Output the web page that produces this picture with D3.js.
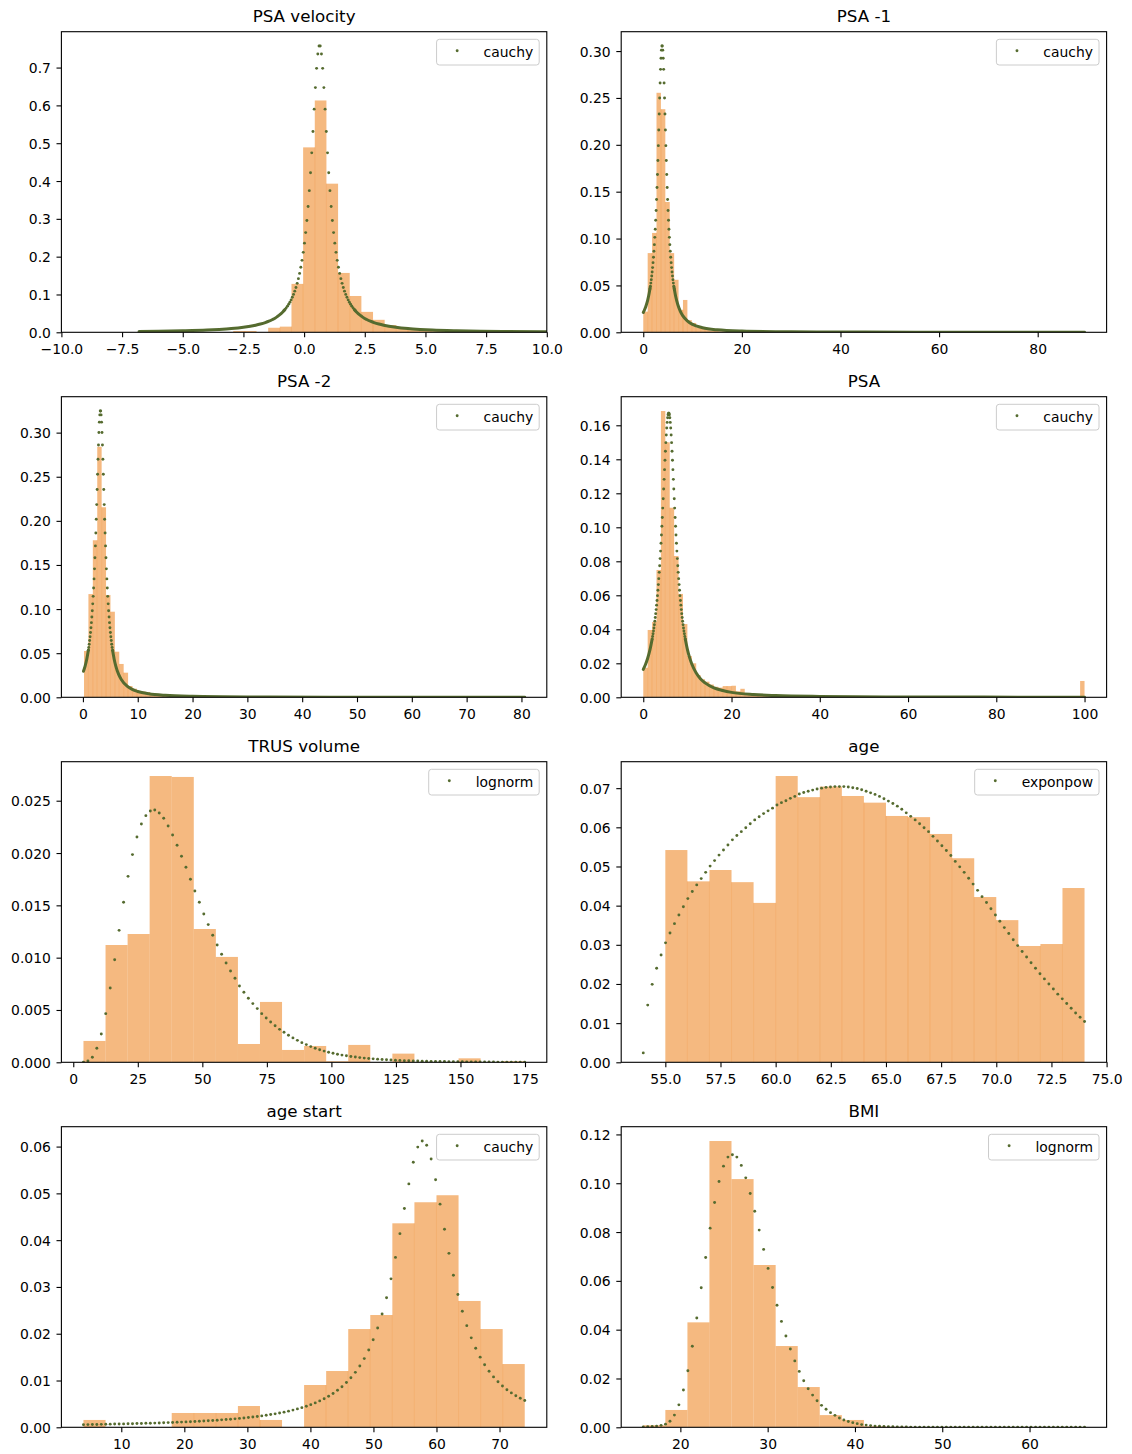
<!DOCTYPE html>
<html><head><meta charset="utf-8">
<script src="https://cdn.jsdelivr.net/npm/d3@7"></script>
<style>body{margin:0;background:#fff}svg text{font-family:"DejaVu Sans",sans-serif}</style>
</head><body><svg id="fig" width="1132" height="1454"></svg>
<script>
// ---------------- DATA ----------------
const titles = ["PSA velocity","PSA -1","PSA -2","PSA","TRUS volume","age","age start","BMI"];
const fitNames = ["cauchy","cauchy","cauchy","cauchy","lognorm","exponpow","cauchy","lognorm"];

// PSA velocity
const psaVelocityBinLeft = [-2.92,-2.44,-1.96,-1.48,-1.00,-0.52,-0.04,0.44,0.92,1.40,1.88,2.36,2.84,3.32,3.80,4.28,4.76,5.24,5.72];
const psaVelocityBinWidth = 0.48;
const psaVelocityDensity = [0.0035,0.0035,0,0.012,0.015,0.128,0.489,0.613,0.393,0.157,0.096,0.054,0.033,0.019,0.011,0.007,0.005,0.003,0.002];
const psaVelocityFitDots = [[-0.835,0.0568],[-0.785,0.0605],[-0.735,0.0646],[-0.685,0.0691],[-0.635,0.0741],[-0.585,0.0796],[-0.535,0.0857],[-0.485,0.0926],[-0.435,0.1002],[-0.385,0.1088],[-0.335,0.1185],[-0.285,0.1294],[-0.235,0.1418],[-0.185,0.1558],[-0.135,0.1719],[-0.085,0.1903],[-0.035,0.2114],[0.015,0.2357],[0.065,0.2636],[0.115,0.2957],[0.165,0.3326],[0.215,0.3746],[0.265,0.422],[0.315,0.4745],[0.365,0.531],[0.415,0.590],[0.465,0.647],[0.515,0.698],[0.565,0.736],[0.615,0.757],[0.665,0.757],[0.715,0.736],[0.765,0.698],[0.815,0.647],[0.865,0.590],[0.915,0.531],[0.965,0.4745],[1.015,0.422],[1.065,0.3746],[1.115,0.3326],[1.165,0.2957],[1.215,0.2636],[1.265,0.2357],[1.315,0.2114],[1.365,0.1903],[1.415,0.1719],[1.465,0.1558],[1.515,0.1418],[1.565,0.1294],[1.615,0.1185],[1.665,0.1088],[1.715,0.1002],[1.765,0.0926],[1.815,0.0857],[1.865,0.0796],[1.915,0.0741],[1.965,0.0691],[2.015,0.0646],[2.065,0.0605],[2.115,0.0568]];
const psaVelocityTailLeft = [[-6.8,0.0024],[-6,0.0030],[-5,0.0042],[-4,0.0061],[-3.5,0.0077],[-3,0.0099],[-2.5,0.0133],[-2,0.0187],[-1.8,0.0218],[-1.6,0.0257],[-1.45,0.0293],[-1.3,0.0339],[-1.2,0.0374],[-1.1,0.0418],[-1.0,0.0466],[-0.9,0.0524],[-0.8,0.0593]];
const psaVelocityTailRight = [[2.08,0.0593],[2.18,0.0524],[2.28,0.0466],[2.38,0.0418],[2.48,0.0374],[2.58,0.0339],[2.73,0.0293],[2.88,0.0257],[3.08,0.0218],[3.28,0.0187],[3.78,0.0133],[4.28,0.0099],[4.78,0.0077],[5.28,0.0061],[6.28,0.0042],[7.28,0.0030],[8.28,0.00228],[10,0.0015],[11,0.00124]];
const psaVelocityXTicks = [-10,-7.5,-5,-2.5,0,2.5,5,7.5,10];
const psaVelocityYTicks = [0,0.1,0.2,0.3,0.4,0.5,0.6,0.7];

// PSA -1
const psa1BinLeft = [0,0.895,1.79,2.685,3.58,4.475,5.37,6.265,7.16,8.055,8.95,9.845,10.74,11.635,12.53,13.425,14.32,15.215,16.11,17.005];
const psa1BinWidth = 0.895;
const psa1Density = [0.022,0.0845,0.106,0.2555,0.238,0.139,0.0845,0.056,0.024,0.0345,0.013,0.010,0.005,0.004,0.003,0.002,0.0015,0.001,0.001,0.001];
const psa1FitDots = [[1.356,0.0463],[1.445,0.0492],[1.535,0.0525],[1.625,0.0561],[1.714,0.0600],[1.804,0.0643],[1.893,0.0690],[1.983,0.0743],[2.073,0.0800],[2.162,0.0864],[2.252,0.0935],[2.341,0.1013],[2.431,0.1099],[2.521,0.1195],[2.610,0.1300],[2.700,0.1417],[2.789,0.1544],[2.879,0.1683],[2.969,0.1832],[3.058,0.1991],[3.148,0.2158],[3.237,0.2329],[3.327,0.2499],[3.417,0.2660],[3.506,0.2805],[3.596,0.2924],[3.685,0.3010],[3.775,0.3054],[3.865,0.3054],[3.955,0.3010],[4.044,0.2924],[4.134,0.2805],[4.223,0.2660],[4.313,0.2499],[4.403,0.2329],[4.492,0.2158],[4.582,0.1991],[4.671,0.1832],[4.761,0.1683],[4.851,0.1544],[4.940,0.1417],[5.030,0.1300],[5.119,0.1195],[5.209,0.1099],[5.299,0.1013],[5.388,0.0935],[5.478,0.0864],[5.567,0.0800],[5.657,0.0743],[5.747,0.0690],[5.836,0.0643],[5.926,0.0600],[6.015,0.0561],[6.105,0.0525],[6.195,0.0492],[6.284,0.0463]];
const psa1TailLeft = [[0,0.0211],[0.3,0.0246],[0.6,0.0289],[0.9,0.0344],[1.2,0.0416],[1.4,0.0477]];
const psa1TailRight = [[6.24,0.0477],[6.6,0.0376],[7,0.0296],[7.5,0.0226],[8,0.0178],[9,0.0119],[10,0.0084],[12,0.0049],[15,0.0026],[20,0.00126],[30,0.00048],[45,0.000195],[60,0.000105],[75,0.000065],[89.5,0.000045]];
const psa1XTicks = [0,20,40,60,80];
const psa1YTicks = [0,0.05,0.10,0.15,0.20,0.25,0.30];

// PSA -2
const psa2BinLeft = [0.2,1.004,1.808,2.612,3.416,4.22,5.024,5.828,6.632,7.436,8.24,9.044,9.848,10.652,11.456,12.26,13.064,13.868,14.672,15.476];
const psa2BinWidth = 0.804;
const psa2Density = [0.0525,0.117,0.178,0.284,0.2154,0.116,0.097,0.0517,0.0378,0.0279,0.0128,0.0098,0.007,0.0065,0.006,0.004,0.003,0.002,0.0015,0.001];
const psa2FitDots = [[0.9865,0.0532],[1.067,0.0565],[1.1475,0.0602],[1.228,0.0643],[1.3085,0.0687],[1.389,0.0735],[1.4695,0.0788],[1.55,0.0846],[1.6305,0.0910],[1.711,0.0981],[1.7915,0.1059],[1.872,0.1144],[1.9525,0.1239],[2.033,0.1342],[2.1135,0.1456],[2.194,0.1581],[2.2745,0.1716],[2.355,0.1862],[2.4355,0.2019],[2.516,0.2184],[2.5965,0.2355],[2.677,0.2528],[2.7575,0.2699],[2.838,0.2859],[2.9185,0.3002],[2.999,0.3119],[3.0795,0.3201],[3.16,0.3245],[3.24,0.3245],[3.3205,0.3201],[3.401,0.3119],[3.4815,0.3002],[3.562,0.2859],[3.6425,0.2699],[3.723,0.2528],[3.8035,0.2355],[3.884,0.2184],[3.9645,0.2019],[4.045,0.1862],[4.1255,0.1716],[4.206,0.1581],[4.2865,0.1456],[4.367,0.1342],[4.4475,0.1239],[4.528,0.1144],[4.6085,0.1059],[4.689,0.0981],[4.7695,0.0910],[4.85,0.0846],[4.9305,0.0788],[5.011,0.0735],[5.0915,0.0687],[5.172,0.0643],[5.2525,0.0602],[5.333,0.0565],[5.4135,0.0532]];
const psa2TailLeft = [[0.1,0.0295],[0.4,0.0354],[0.7,0.0432],[1.0,0.0537]];
const psa2TailRight = [[5.41,0.0532],[5.7,0.0432],[6.0,0.0354],[6.5,0.0263],[7,0.0202],[8,0.0130],[9,0.0090],[10,0.0066],[12,0.0040],[15,0.0022],[20,0.0011],[30,0.00043],[45,0.000178],[60,0.000097],[80.6,0.000052]];
const psa2XTicks = [0,10,20,30,40,50,60,70,80];
const psa2YTicks = [0,0.05,0.10,0.15,0.20,0.25,0.30];

// PSA
const psaBinLeft = [0,1,2,3,4,5,6,7,8,9,10,11,12,13,14,15,16,17,18,19,20,21,22,23,24,25,26,27,28,29,99];
const psaBinWidth = 1;
const psaDensity = [0.0174,0.0396,0.0443,0.0749,0.1684,0.150,0.1115,0.0831,0.0608,0.0431,0.0243,0.0200,0.0131,0.0106,0.0092,0.0075,0.0062,0.0057,0.0066,0.0066,0.0068,0.0035,0.0050,0.0020,0.0015,0.0012,0.0010,0.0008,0.0006,0.0005,0.0096];
const psaFitDots = [[2.02,0.0343],[2.12,0.0358],[2.22,0.0374],[2.32,0.0390],[2.42,0.0408],[2.52,0.0427],[2.62,0.0447],[2.72,0.0469],[2.82,0.0492],[2.92,0.0516],[3.02,0.0542],[3.12,0.0569],[3.22,0.0598],[3.32,0.0630],[3.42,0.0663],[3.52,0.0698],[3.62,0.0735],[3.72,0.0774],[3.82,0.0816],[3.92,0.0860],[4.02,0.0906],[4.12,0.0955],[4.22,0.1006],[4.32,0.1058],[4.42,0.1113],[4.52,0.1168],[4.62,0.1225],[4.72,0.1282],[4.82,0.1339],[4.92,0.1394],[5.02,0.1447],[5.12,0.1498],[5.22,0.1543],[5.32,0.1584],[5.42,0.1617],[5.52,0.1644],[5.62,0.1662],[5.72,0.1671],[5.82,0.1671],[5.92,0.1662],[6.02,0.1644],[6.12,0.1617],[6.22,0.1584],[6.32,0.1543],[6.42,0.1498],[6.52,0.1447],[6.62,0.1394],[6.72,0.1339],[6.82,0.1282],[6.92,0.1225],[7.02,0.1168],[7.12,0.1113],[7.22,0.1058],[7.32,0.1006],[7.42,0.0955],[7.52,0.0906],[7.62,0.0860],[7.72,0.0816],[7.82,0.0774],[7.92,0.0735],[8.02,0.0698],[8.12,0.0663],[8.22,0.0630],[8.32,0.0598],[8.42,0.0569],[8.52,0.0542],[8.62,0.0516],[8.72,0.0492],[8.82,0.0469],[8.92,0.0447],[9.02,0.0427],[9.12,0.0408],[9.22,0.0390],[9.32,0.0374],[9.42,0.0358],[9.52,0.0343]];
const psaTailLeft = [[0,0.0164],[0.5,0.0193],[1.0,0.0230],[1.5,0.0277],[2.0,0.0340]];
const psaTailRight = [[9.52,0.0343],[10,0.0282],[10.5,0.0233],[11,0.0196],[12,0.0143],[13,0.0108],[14,0.0085],[16,0.0056],[18,0.0040],[20,0.0029],[25,0.00162],[30,0.00103],[40,0.00052],[55,0.00025],[70,0.000147],[85,0.000097],[100,0.000068]];
const psaXTicks = [0,20,40,60,80,100];
const psaYTicks = [0,0.02,0.04,0.06,0.08,0.10,0.12,0.14,0.16];

// TRUS volume
const trusBinLeft = [3.95,12.50,21.05,29.59,38.14,46.69,55.24,63.78,72.33,80.88,89.43,97.97,106.52,115.07,123.62,132.16,140.71,149.26,157.81,166.35];
const trusBinWidth = 8.5475;
const trusDensity = [0.00204,0.01121,0.01226,0.02736,0.02727,0.01274,0.01007,0.00175,0.00577,0.00118,0.00156,0.0001,0.00166,0,0.00083,0,0,0.00038,0,0.0001];
const trusFitDots = [[3.95,0.00002],[5.68,0.00013],[7.40,0.00048],[9.13,0.00134],[10.86,0.00271],[12.58,0.00465],[14.31,0.0071],[16.04,0.0098],[17.76,0.01261],[19.49,0.01529],[21.22,0.01777],[22.94,0.01985],[24.67,0.02153],[26.39,0.02278],[28.12,0.02357],[29.85,0.02402],[31.57,0.02411],[33.30,0.02383],[35.03,0.02332],[36.75,0.02258],[38.48,0.02172],[40.21,0.02074],[41.93,0.01969],[43.66,0.01864],[45.39,0.01749],[47.11,0.01637],[48.84,0.01529],[50.57,0.01418],[52.29,0.01316],[54.02,0.01214],[55.75,0.01121],[57.47,0.01032],[59.20,0.00949],[60.92,0.00873],[62.65,0.00803],[64.38,0.00729],[66.10,0.00669],[67.83,0.00612],[69.56,0.00561],[71.28,0.00513],[73.01,0.00465],[74.74,0.00424],[76.46,0.00385],[78.19,0.0035],[79.92,0.00315],[81.64,0.00287],[83.37,0.00258],[85.10,0.00233],[86.82,0.0021],[88.55,0.00188],[90.28,0.00169],[92.00,0.0015],[93.73,0.00134],[95.45,0.0012],[97.18,0.00107],[98.91,0.00096],[100.63,0.00086],[102.36,0.00077],[104.09,0.00069],[105.81,0.00062],[107.54,0.00056],[109.27,0.0005],[110.99,0.00045],[112.72,0.0004],[114.45,0.00036],[116.17,0.00033],[117.90,0.0003],[119.63,0.00027],[121.35,0.00024],[123.08,0.00022],[124.81,0.0002],[126.53,0.00018],[128.26,0.00016],[129.98,0.00015],[131.71,0.00013],[133.44,0.00012],[135.16,0.00011],[136.89,0.0001],[138.62,0.00009],[140.34,0.00008],[142.07,0.000075],[143.80,0.00007],[145.52,0.000062],[147.25,0.000056],[148.98,0.00005],[150.70,0.000046],[152.43,0.000042],[154.16,0.000038],[155.88,0.000034],[157.61,0.000031],[159.34,0.000028],[161.06,0.000025],[162.79,0.000023],[164.51,0.000021],[166.24,0.000019],[167.97,0.000017],[169.69,0.000016],[171.42,0.000014],[173.15,0.000013],[174.87,0.000012]];
const trusXTicks = [0,25,50,75,100,125,150,175];
const trusYTicks = [0,0.005,0.010,0.015,0.020,0.025];

// age
const ageBinLeft = [55,56,57,58,59,60,61,62,63,64,65,66,67,68,69,70,71,72,73];
const ageBinWidth = 1;
const ageDensity = [0.0542,0.0462,0.0491,0.0460,0.0407,0.0731,0.0677,0.0704,0.0680,0.0663,0.0629,0.0626,0.0583,0.0521,0.0422,0.0363,0.0297,0.0302,0.0445];
const ageFitDots = [[54.000,0.0024],[54.202,0.0146],[54.404,0.0199],[54.606,0.0240],[54.808,0.0274],[55.010,0.0305],[55.212,0.0330],[55.414,0.0354],[55.616,0.0376],[55.818,0.0397],[56.020,0.0418],[56.222,0.0436],[56.424,0.0453],[56.626,0.0469],[56.828,0.0485],[57.030,0.0501],[57.232,0.0515],[57.434,0.0529],[57.636,0.0542],[57.838,0.0555],[58.040,0.0568],[58.242,0.0579],[58.444,0.0589],[58.646,0.0599],[58.848,0.0609],[59.051,0.0619],[59.253,0.0627],[59.455,0.0635],[59.657,0.0642],[59.859,0.0649],[60.061,0.0657],[60.263,0.0663],[60.465,0.0668],[60.667,0.0674],[60.869,0.0679],[61.071,0.0685],[61.273,0.0689],[61.475,0.0692],[61.677,0.0695],[61.879,0.0698],[62.081,0.0700],[62.283,0.0702],[62.485,0.0703],[62.687,0.0704],[62.889,0.0704],[63.091,0.0704],[63.293,0.0703],[63.495,0.0701],[63.697,0.0699],[63.899,0.0696],[64.101,0.0692],[64.303,0.0688],[64.505,0.0684],[64.707,0.0679],[64.909,0.0673],[65.111,0.0667],[65.313,0.0661],[65.515,0.0654],[65.717,0.0646],[65.919,0.0637],[66.121,0.0628],[66.323,0.0619],[66.525,0.0609],[66.727,0.0599],[66.929,0.0589],[67.131,0.0577],[67.333,0.0565],[67.535,0.0553],[67.737,0.0541],[67.939,0.0528],[68.141,0.0513],[68.343,0.0499],[68.545,0.0485],[68.747,0.0470],[68.949,0.0455],[69.152,0.0439],[69.354,0.0423],[69.556,0.0408],[69.758,0.0392],[69.960,0.0376],[70.162,0.0360],[70.364,0.0344],[70.566,0.0329],[70.768,0.0313],[70.970,0.0298],[71.172,0.0283],[71.374,0.0269],[71.576,0.0254],[71.778,0.0240],[71.980,0.0226],[72.182,0.0213],[72.384,0.0200],[72.586,0.0187],[72.788,0.0174],[72.990,0.0162],[73.192,0.0150],[73.394,0.0138],[73.596,0.0126],[73.798,0.0115],[74.000,0.0104]];
const ageXTicks = [55,57.5,60,62.5,65,67.5,70,72.5,75];
const ageYTicks = [0,0.01,0.02,0.03,0.04,0.05,0.06,0.07];

// age start
const ageStartBinLeft = [4,7.5,11,14.5,18,21.5,25,28.5,32,35.5,39,42.5,46,49.5,53,56.5,60,63.5,67,70.5];
const ageStartBinWidth = 3.5;
const ageStartDensity = [0.00157,0,0,0,0.00306,0.00306,0.00306,0.00455,0.00157,0,0.00904,0.01203,0.0210,0.0240,0.0436,0.0481,0.0496,0.0270,0.0210,0.01352];
const ageStartFitDots = [[4.000,0.00057],[4.707,0.00058],[5.414,0.00060],[6.121,0.00061],[6.828,0.00063],[7.535,0.00065],[8.242,0.00067],[8.950,0.00069],[9.657,0.00071],[10.364,0.00073],[11.071,0.00075],[11.778,0.00077],[12.485,0.00080],[13.192,0.00082],[13.899,0.00085],[14.606,0.00087],[15.313,0.00090],[16.020,0.00093],[16.727,0.00097],[17.434,0.00100],[18.141,0.00103],[18.848,0.00107],[19.556,0.00111],[20.263,0.00115],[20.970,0.00120],[21.677,0.00124],[22.384,0.00129],[23.091,0.00134],[23.798,0.00140],[24.505,0.00146],[25.212,0.00152],[25.919,0.00159],[26.626,0.00166],[27.333,0.00173],[28.040,0.00181],[28.747,0.00190],[29.455,0.00199],[30.162,0.00209],[30.869,0.00220],[31.576,0.00232],[32.283,0.00244],[32.990,0.00258],[33.697,0.00272],[34.404,0.00288],[35.111,0.00305],[35.818,0.00324],[36.525,0.00345],[37.232,0.00368],[37.939,0.00393],[38.646,0.00420],[39.354,0.00451],[40.061,0.00484],[40.768,0.00522],[41.475,0.00564],[42.182,0.00611],[42.889,0.00664],[43.596,0.00724],[44.303,0.00791],[45.010,0.00868],[45.717,0.00956],[46.424,0.01058],[47.131,0.01175],[47.838,0.01311],[48.545,0.01468],[49.253,0.01653],[49.960,0.01870],[50.667,0.02124],[51.374,0.02422],[52.081,0.02769],[52.788,0.03173],[53.495,0.03631],[54.202,0.04139],[54.909,0.04675],[55.616,0.05202],[56.323,0.05664],[57.030,0.05989],[57.737,0.06119],[58.444,0.06028],[59.152,0.05733],[59.859,0.05291],[60.566,0.04770],[61.273,0.04232],[61.980,0.03718],[62.687,0.03250],[63.394,0.02837],[64.101,0.02479],[64.808,0.02173],[65.515,0.01912],[66.222,0.01689],[66.929,0.01499],[67.636,0.01337],[68.343,0.01197],[69.051,0.01077],[69.758,0.00973],[70.465,0.00883],[71.172,0.00804],[71.879,0.00735],[72.586,0.00674],[73.293,0.00620],[74.000,0.00572]];
const ageStartXTicks = [10,20,30,40,50,60,70];
const ageStartYTicks = [0,0.01,0.02,0.03,0.04,0.05,0.06];

// BMI
const bmiBinLeft = [15.75,18.28,20.81,23.33,25.86,28.39,30.92,33.44,35.97,38.50,41.03,43.55,46.08,48.61,51.14,53.66,56.19,58.72,61.25,63.77];
const bmiBinWidth = 2.5275;
const bmiDensity = [0.00082,0.0071,0.0430,0.1173,0.1017,0.0665,0.0333,0.0165,0.0050,0.0030,0.0004,0.0002,0,0,0,0,0,0,0,0.0001];
const bmiFitDots = [[15.75,0.0001],[16.26,0.0002],[16.77,0.0003],[17.28,0.0005],[17.79,0.0008],[18.30,0.0013],[18.81,0.0025],[19.32,0.0050],[19.83,0.0092],[20.35,0.0153],[20.86,0.0232],[21.37,0.0332],[21.88,0.0448],[22.39,0.0572],[22.90,0.0696],[23.41,0.0816],[23.92,0.0921],[24.43,0.1007],[24.94,0.1070],[25.45,0.1107],[25.96,0.1117],[26.47,0.1107],[26.98,0.1073],[27.49,0.1022],[28.00,0.0958],[28.52,0.0885],[29.03,0.0808],[29.54,0.0729],[30.05,0.0651],[30.56,0.0573],[31.07,0.0500],[31.58,0.0434],[32.09,0.0374],[32.60,0.0321],[33.11,0.0272],[33.62,0.0229],[34.13,0.0191],[34.64,0.0158],[35.15,0.0132],[35.66,0.0109],[36.17,0.0090],[36.69,0.0074],[37.20,0.0060],[37.71,0.0049],[38.22,0.0038],[38.73,0.0030],[39.24,0.0024],[39.75,0.0019],[40.26,0.0015],[40.77,0.0011],[41.28,0.0009],[41.79,0.0007],[42.30,0.0005],[42.81,0.0004],[43.32,0.0003],[43.83,0.00025],[44.34,0.0002],[44.85,0.00015],[45.37,0.00012],[45.88,0.0001],[46.39,0.00008],[46.90,0.00007],[47.41,0.00006],[47.92,0.00005],[48.43,0.00004],[48.94,0.00003],[49.45,0.00003],[49.96,0.00003],[50.47,0.00003],[50.98,0.00003],[51.49,0.00003],[52.00,0.00003],[52.51,0.00003],[53.02,0.00003],[53.54,0.00003],[54.05,0.00002],[54.56,0.00002],[55.07,0.00002],[55.58,0.00002],[56.09,0.00002],[56.60,0.00002],[57.11,0.00002],[57.62,0.00002],[58.13,0.00002],[58.64,0.00002],[59.15,0.00001],[59.66,0.00001],[60.17,0.00001],[60.69,0.00001],[61.20,0.00001],[61.71,0.00001],[62.22,0.00001],[62.73,0.00001],[63.24,0.00001],[63.75,0.00001],[64.26,0.00001],[64.77,0.00001],[65.28,0.00001],[65.79,0.00001],[66.30,0.00001]];
const bmiXTicks = [20,30,40,50,60];
const bmiYTicks = [0,0.02,0.04,0.06,0.08,0.10,0.12];

// ---------------- PANELS (built from the arrays above) ----------------
const panels = [
  {binLeft:psaVelocityBinLeft, binWidth:psaVelocityBinWidth, density:psaVelocityDensity, dots:psaVelocityFitDots, tails:[psaVelocityTailLeft,psaVelocityTailRight], xTicks:psaVelocityXTicks, yTicks:psaVelocityYTicks, xFmt:".1f", yFmt:".1f", xLim:[-10,10]},
  {binLeft:psa1BinLeft, binWidth:psa1BinWidth, density:psa1Density, dots:psa1FitDots, tails:[psa1TailLeft,psa1TailRight], xTicks:psa1XTicks, yTicks:psa1YTicks, xFmt:"d", yFmt:".2f"},
  {binLeft:psa2BinLeft, binWidth:psa2BinWidth, density:psa2Density, dots:psa2FitDots, tails:[psa2TailLeft,psa2TailRight], xTicks:psa2XTicks, yTicks:psa2YTicks, xFmt:"d", yFmt:".2f"},
  {binLeft:psaBinLeft, binWidth:psaBinWidth, density:psaDensity, dots:psaFitDots, tails:[psaTailLeft,psaTailRight], xTicks:psaXTicks, yTicks:psaYTicks, xFmt:"d", yFmt:".2f"},
  {binLeft:trusBinLeft, binWidth:trusBinWidth, density:trusDensity, dots:trusFitDots, tails:[], xTicks:trusXTicks, yTicks:trusYTicks, xFmt:"d", yFmt:".3f"},
  {binLeft:ageBinLeft, binWidth:ageBinWidth, density:ageDensity, dots:ageFitDots, tails:[], xTicks:ageXTicks, yTicks:ageYTicks, xFmt:".1f", yFmt:".2f"},
  {binLeft:ageStartBinLeft, binWidth:ageStartBinWidth, density:ageStartDensity, dots:ageStartFitDots, tails:[], xTicks:ageStartXTicks, yTicks:ageStartYTicks, xFmt:"d", yFmt:".2f"},
  {binLeft:bmiBinLeft, binWidth:bmiBinWidth, density:bmiDensity, dots:bmiFitDots, tails:[], xTicks:bmiXTicks, yTicks:bmiYTicks, xFmt:"d", yFmt:".2f"}
];

// ---------------- LAYOUT / STYLE ----------------
const COLX = [61.4, 621.2];
const ROWY = [31.7, 396.7, 761.7, 1126.7];
const AW = 485.4, AH = 300.6;
const BAR = "#EE8A2C", FIT = "#556B2F";
const DOT_R = 1.45;
const svg = d3.select("#fig");

panels.forEach((p, i) => {
  const col = i % 2, row = Math.floor(i / 2);
  const g = svg.append("g").attr("transform", `translate(${COLX[col]},${ROWY[row]})`);

  const allX = p.dots.map(d => d[0])
    .concat(...p.tails.map(t => t.map(d => d[0])))
    .concat(p.binLeft, p.binLeft.map(v => v + p.binWidth));
  let xd;
  if (p.xLim) xd = p.xLim;
  else { const [a, b] = d3.extent(allX); const m = (b - a) * 0.05; xd = [a - m, b + m]; }
  const allY = p.dots.map(d => d[1]).concat(...p.tails.map(t => t.map(d => d[1]))).concat(p.density);
  const ymax = d3.max(allY) * 1.05;
  const x = d3.scaleLinear().domain(xd).range([0, AW]);
  const y = d3.scaleLinear().domain([0, ymax]).range([AH, 0]);

  const cid = "clip" + i;
  g.append("clipPath").attr("id", cid).append("rect").attr("width", AW).attr("height", AH);
  const plot = g.append("g").attr("clip-path", `url(#${cid})`);

  const bars = p.binLeft.map((l, j) => ({ l, r: l + p.binWidth, h: p.density[j] })).filter(b => b.h > 0);
  plot.selectAll("rect.bar").data(bars).join("rect").attr("class", "bar")
    .attr("x", d => x(d.l)).attr("width", d => x(d.r) - x(d.l))
    .attr("y", d => y(d.h)).attr("height", d => y(0) - y(d.h))
    .attr("fill", BAR).attr("fill-opacity", 0.6);

  // slightly darker seams between adjacent bars
  const seams = [];
  for (let j = 1; j < p.binLeft.length; j++) {
    if (Math.abs(p.binLeft[j] - p.binLeft[j - 1] - p.binWidth) < 1e-6 && p.density[j] > 0 && p.density[j - 1] > 0)
      seams.push({ x: p.binLeft[j], h: Math.min(p.density[j], p.density[j - 1]) });
  }
  plot.selectAll("line.seam").data(seams).join("line").attr("class", "seam")
    .attr("x1", d => x(d.x)).attr("x2", d => x(d.x)).attr("y1", y(0)).attr("y2", d => y(d.h))
    .attr("stroke", BAR).attr("stroke-opacity", 0.35).attr("stroke-width", 0.9);

  const line = d3.line().x(d => x(d[0])).y(d => y(d[1])).curve(d3.curveMonotoneX);
  plot.selectAll("path.tail").data(p.tails).join("path").attr("class", "tail")
    .attr("d", line).attr("fill", "none").attr("stroke", FIT).attr("stroke-width", 3.0)
    .attr("stroke-linecap", "round").attr("stroke-linejoin", "round");

  plot.selectAll("circle.dot").data(p.dots).join("circle").attr("class", "dot")
    .attr("cx", d => x(d[0])).attr("cy", d => y(d[1])).attr("r", DOT_R).attr("fill", FIT);

  // axes
  const xa = g.append("g").attr("transform", `translate(0,${AH})`)
    .call(d3.axisBottom(x).tickValues(p.xTicks).tickFormat(d3.format(p.xFmt)).tickSizeInner(4.9).tickSizeOuter(0).tickPadding(7));
  const ya = g.append("g")
    .call(d3.axisLeft(y).tickValues(p.yTicks).tickFormat(d3.format(p.yFmt)).tickSizeInner(4.9).tickSizeOuter(0).tickPadding(5.6));
  [xa, ya].forEach(a => {
    a.select(".domain").remove();
    a.selectAll("line").attr("stroke", "#000").attr("stroke-width", 1.1);
    a.selectAll("text").attr("fill", "#000").attr("font-size", 13.9).attr("font-family", "DejaVu Sans");
  });
  ya.selectAll("text").attr("dy", "0.36em");

  g.append("rect").attr("width", AW).attr("height", AH).attr("fill", "none")
    .attr("stroke", "#000").attr("stroke-width", 1.1);

  g.append("text").attr("x", AW / 2).attr("y", -9.4).attr("text-anchor", "middle")
    .attr("font-size", 16.7).attr("fill", "#000").text(titles[i]);

  // legend
  const lg = g.append("g");
  const box = lg.append("rect");
  const t = lg.append("text").attr("font-size", 13.9).attr("fill", "#000").text(fitNames[i]);
  const tw = t.node().getComputedTextLength();
  const bw = tw + 53, bx = AW - 7.6 - bw, by = 7.6;
  box.attr("x", bx).attr("y", by).attr("width", bw).attr("height", 25.7).attr("rx", 2.8)
    .attr("fill", "#fff").attr("fill-opacity", 0.8).attr("stroke", "#cccccc").attr("stroke-width", 1);
  t.attr("x", bx + 47).attr("y", by + 17.4);
  lg.append("circle").attr("cx", bx + 20.6).attr("cy", by + 11.4).attr("r", DOT_R).attr("fill", FIT);
});
</script></body></html>
